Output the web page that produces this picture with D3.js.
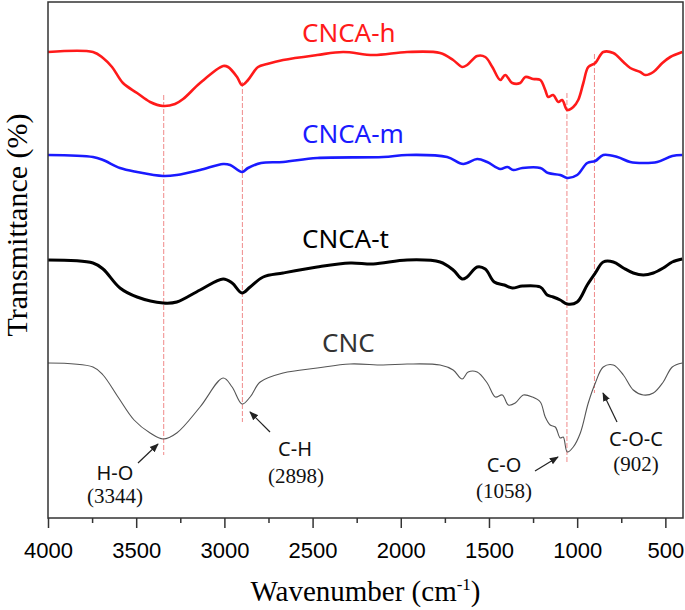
<!DOCTYPE html>
<html><head><meta charset="utf-8">
<script src="https://cdn.jsdelivr.net/npm/d3@7"></script>
<style>body{margin:0;background:#fff;}svg{display:block;}</style>
</head><body>
<svg id="c" width="685" height="610"></svg>
<script>
// ---- data (transmittance, arbitrary offset units) ----
const hWn = [4000,3745,3688,3637,3575,3495,3421,3347,3280,3234,3138,3007,2979,2928,2900,2866,2809,2758,2667,2474,2327,2156,1964,1777,1703,1652,1624,1567,1521,1481,1436,1408,1368,1323,1294,1249,1209,1181,1164,1136,1107,1085,1056,1022,994,965,937,897,852,795,738,699,642,614,568,517,472,404];
const hT  = [466,466,460,451,435,425,416,412,414,419,435,452,451,441,433,438,451,454,458,463,466,463,466,465,458,451,453,462,461,451,438,443,435,435,441,439,438,428,421,423,416,418,408,411,418,435,451,455,466,465,456,450,446,443,446,455,461,466];

const mWn = [4000,3745,3688,3592,3495,3347,3270,3138,3007,2967,2900,2866,2792,2667,2474,2100,1964,1737,1646,1567,1510,1436,1396,1362,1311,1209,1164,1096,1056,1000,943,897,852,772,699,625,546,461,404];
const mT  = [363,361,358,350,346,342,343,348,354,353,346,350,355,356,360,361,363,361,354,359,356,349,351,348,350,350,345,343,340,343,355,357,363,361,356,355,356,362,363];

const tWn = [4000,3745,3688,3592,3495,3347,3270,3138,3007,2956,2900,2854,2780,2667,2474,2287,2156,1964,1777,1703,1652,1624,1567,1521,1470,1413,1368,1311,1209,1170,1136,1096,1056,1000,943,897,852,795,738,682,625,568,512,461,404];
const tT  = [258,255,249,230,221,215,216,228,239,235,225,231,241,245,251,255,254,258,256,248,239,241,251,249,236,233,230,232,231,223,221,218,214,216,233,245,256,256,250,245,243,245,250,256,259];

const cWn = [4000,3745,3688,3603,3512,3421,3347,3270,3138,3007,2956,2900,2854,2797,2667,2474,2287,2100,1964,1777,1703,1652,1618,1567,1510,1464,1424,1390,1351,1305,1254,1209,1181,1153,1124,1096,1079,1056,1022,982,937,897,852,795,738,682,625,568,512,461,404];
const cT  = [155,151,143,121,98,85,79,85,111,140,131,114,121,136,145,150,154,153,154,153,148,139,146,146,135,121,123,113,115,123,121,116,101,93,91,80,81,66,71,85,115,135,151,153,143,128,123,125,136,151,155];

const seriesNames = ["CNCA-h","CNCA-m","CNCA-t","CNC"];
const tickValues = [4000,3500,3000,2500,2000,1500,1000,500];
const minorTicks = [3750,3250,2750,2250,1750,1250,750];
const peakWn = [3344,2898,1058,902];
const peakBond = ["H-O","C-H","C-O","C-O-C"];
const peakLabel = ["(3344)","(2898)","(1058)","(902)"];

// ---- layout ----
const L = 48, R = 683, T = 2, B = 518;
const svg = d3.select("#c");
const x = d3.scaleLinear().domain([4000, 400]).range([L, R]);
const y = d3.scaleLinear().domain([0, 516]).range([B, T]);

// dashed peak guides
const guideY = [[95,455],[82,422],[93,462],[54,393]];
svg.append("g").selectAll("line").data(peakWn).join("line")
  .attr("x1", d => x(d)).attr("x2", d => x(d))
  .attr("y1", (d,i) => guideY[i][0]).attr("y2", (d,i) => guideY[i][1])
  .attr("stroke", "#f08a8a").attr("stroke-width", 1).attr("stroke-dasharray", "5,2");

const line = d3.line().x(d => x(d[0])).y(d => y(d[1])).curve(d3.curveCatmullRom.alpha(0.5));
const series = [
  {wn:hWn, t:hT, color:"#ff1a1a", w:2.6},
  {wn:mWn, t:mT, color:"#1a1aff", w:2.6},
  {wn:tWn, t:tT, color:"#000000", w:3},
  {wn:cWn, t:cT, color:"#555555", w:1.1}
];
series.forEach(s => {
  svg.append("path").datum(s.wn.map((w,i) => [w, s.t[i]]))
    .attr("d", line).attr("fill","none").attr("stroke", s.color)
    .attr("stroke-width", s.w).attr("stroke-linejoin","round");
});

// frame
svg.append("rect").attr("x", L).attr("y", T).attr("width", R - L).attr("height", B - T)
  .attr("fill","none").attr("stroke","#333").attr("stroke-width",1.5);

// axis
const ax = svg.append("g").attr("transform", `translate(0,${B})`)
  .call(d3.axisBottom(x).tickValues(tickValues).tickSize(10).tickSizeOuter(0).tickPadding(14).tickFormat(d3.format("d")));
ax.select(".domain").remove();
ax.selectAll(".tick line").attr("stroke","#333").attr("stroke-width",1.5);
ax.selectAll(".tick text").attr("font-family","'Liberation Sans', Arial, sans-serif")
  .attr("font-size", 22).attr("fill","#000");
const ax2 = svg.append("g").attr("transform", `translate(0,${B})`)
  .call(d3.axisBottom(x).tickValues(minorTicks).tickSize(5).tickFormat(""));
ax2.select(".domain").remove();
ax2.selectAll(".tick line").attr("stroke","#333").attr("stroke-width",1.5);

// axis titles
const xt = svg.append("text").attr("x", (L+R)/2).attr("y", 601).attr("text-anchor","middle")
  .attr("font-family","'Liberation Serif', 'Times New Roman', serif").attr("font-size", 29).attr("fill","#000");
xt.append("tspan").text("Wavenumber (cm");
xt.append("tspan").text("-1").attr("font-size", 17).attr("dy", -11);
xt.append("tspan").text(")").attr("dy", 11);

svg.append("text").attr("transform","translate(27,225) rotate(-90)").attr("text-anchor","middle")
  .attr("font-family","'Liberation Serif', 'Times New Roman', serif").attr("font-size", 30).attr("fill","#000")
  .text("Transmittance (%)");

// series labels
const labelPos = [[302,42,"#ff1a1a"],[302,143,"#1a1aff"],[302,248,"#000"],[322,352,"#333"]];
svg.append("g").selectAll("text").data(seriesNames).join("text")
  .attr("x", (d,i) => labelPos[i][0]).attr("y", (d,i) => labelPos[i][1])
  .attr("fill", (d,i) => labelPos[i][2])
  .attr("font-family","'Noto Sans', sans-serif").attr("font-size", 26)
  .text(d => d);

// peak annotations
const bondPos = [[115,480],[295,456],[504,472],[636,446]];
const numPos = [[115,503],[296,483],[504,498],[636,471]];
svg.append("g").selectAll("text").data(peakBond).join("text")
  .attr("x", (d,i) => bondPos[i][0]).attr("y", (d,i) => bondPos[i][1]).attr("text-anchor","middle")
  .attr("font-family","'Noto Sans', sans-serif").attr("font-size", 20).attr("fill","#111").text(d => d);
svg.append("g").selectAll("text").data(peakLabel).join("text")
  .attr("x", (d,i) => numPos[i][0]).attr("y", (d,i) => numPos[i][1]).attr("text-anchor","middle")
  .attr("font-family","'Liberation Serif', serif").attr("font-size", 21).attr("fill","#111").text(d => d);

// arrows
svg.append("defs").append("marker").attr("id","ah").attr("viewBox","0 0 10 10")
  .attr("refX",9).attr("refY",5).attr("markerWidth",9).attr("markerHeight",9)
  .attr("markerUnits","userSpaceOnUse").attr("orient","auto")
  .append("path").attr("d","M0,1 L10,5 L0,9 Z").attr("fill","#222");
const arrows = [[138,463,158,444],[270,432,250,412],[535,471,558,457],[617,422,603,393]];
svg.append("g").selectAll("line").data(arrows).join("line")
  .attr("x1", d => d[0]).attr("y1", d => d[1]).attr("x2", d => d[2]).attr("y2", d => d[3])
  .attr("stroke","#222").attr("stroke-width",1.2).attr("marker-end","url(#ah)");
</script>
</body></html>
